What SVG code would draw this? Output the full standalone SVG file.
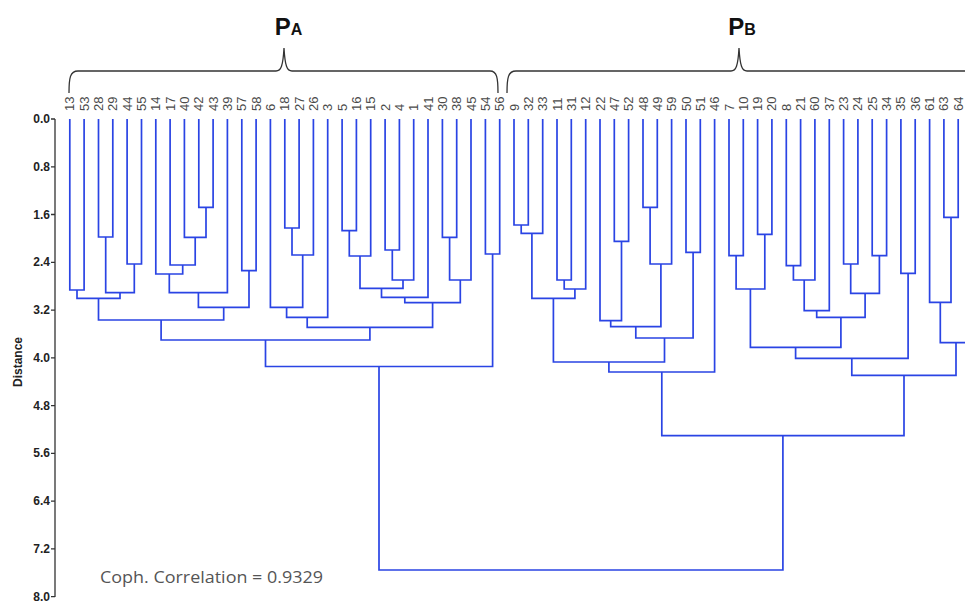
<svg xmlns="http://www.w3.org/2000/svg" width="965" height="602" viewBox="0 0 965 602">
<style>
.leaf{font-family:"Liberation Sans",Arial,sans-serif;font-size:13px;fill:#4a4a4a}
.ax{font-family:"Liberation Sans Narrow","Liberation Sans",Arial,sans-serif;font-size:12px;font-weight:bold;fill:#222;text-anchor:end}
.br{fill:none;stroke:#333;stroke-width:1.3}
.m{fill:none;stroke:#2a44e4;stroke-width:1.7}
.grp{font-family:"Liberation Sans",Arial,sans-serif;font-weight:bold;fill:#111;text-anchor:middle}
</style>
<rect width="965" height="602" fill="#fff"/>
<g id="group-PA">
<path class="br" d="M69 93 C69 78 70 71 78 71 H276 C281 71 283 66 284 48 C285 66 287 71 292 71 H490 C497 71 498 78 498 93"/>
<text class="grp" x="288.5" y="35"><tspan font-size="24">P</tspan><tspan font-size="16">A</tspan></text>
</g>
<g id="group-PB">
<path class="br" d="M507 93 C507 78 508 71 516 71 H731 C736 71 738 66 739 48 C740 66 742 71 747 71 H970"/>
<text class="grp" x="742" y="35"><tspan font-size="24">P</tspan><tspan font-size="16">B</tspan></text>
</g>
<g id="axis">
<path fill="none" stroke="#333" stroke-width="1.3" d="M55 119 V597 M51 119 H55 M51 166.8 H55 M51 214.5 H55 M51 262.3 H55 M51 310.1 H55 M51 357.9 H55 M51 405.6 H55 M51 453.4 H55 M51 501.2 H55 M51 548.9 H55 M51 596.7 H55"/>
<text class="ax" x="50" y="123">0.0</text>
<text class="ax" x="50" y="170.8">0.8</text>
<text class="ax" x="50" y="218.5">1.6</text>
<text class="ax" x="50" y="266.3">2.4</text>
<text class="ax" x="50" y="314.1">3.2</text>
<text class="ax" x="50" y="361.9">4.0</text>
<text class="ax" x="50" y="409.6">4.8</text>
<text class="ax" x="50" y="457.4">5.6</text>
<text class="ax" x="50" y="505.2">6.4</text>
<text class="ax" x="50" y="552.9">7.2</text>
<text class="ax" x="50" y="600.7">8.0</text>
<text class="ax" transform="translate(22,362) rotate(-90)" style="text-anchor:middle">Distance</text>
</g>
<g id="leaves">
<text class="leaf" transform="translate(74.3,111) rotate(-90)">13</text>
<text class="leaf" transform="translate(88.6,111) rotate(-90)">53</text>
<text class="leaf" transform="translate(103,111) rotate(-90)">28</text>
<text class="leaf" transform="translate(117.3,111) rotate(-90)">29</text>
<text class="leaf" transform="translate(131.6,111) rotate(-90)">44</text>
<text class="leaf" transform="translate(146,111) rotate(-90)">55</text>
<text class="leaf" transform="translate(160.3,111) rotate(-90)">14</text>
<text class="leaf" transform="translate(174.6,111) rotate(-90)">17</text>
<text class="leaf" transform="translate(188.9,111) rotate(-90)">40</text>
<text class="leaf" transform="translate(203.3,111) rotate(-90)">42</text>
<text class="leaf" transform="translate(217.6,111) rotate(-90)">43</text>
<text class="leaf" transform="translate(231.9,111) rotate(-90)">39</text>
<text class="leaf" transform="translate(246.3,111) rotate(-90)">57</text>
<text class="leaf" transform="translate(260.6,111) rotate(-90)">58</text>
<text class="leaf" transform="translate(274.9,111) rotate(-90)">6</text>
<text class="leaf" transform="translate(289.3,111) rotate(-90)">18</text>
<text class="leaf" transform="translate(303.6,111) rotate(-90)">27</text>
<text class="leaf" transform="translate(317.9,111) rotate(-90)">26</text>
<text class="leaf" transform="translate(332.2,111) rotate(-90)">3</text>
<text class="leaf" transform="translate(346.6,111) rotate(-90)">5</text>
<text class="leaf" transform="translate(360.9,111) rotate(-90)">16</text>
<text class="leaf" transform="translate(375.2,111) rotate(-90)">15</text>
<text class="leaf" transform="translate(389.6,111) rotate(-90)">2</text>
<text class="leaf" transform="translate(403.9,111) rotate(-90)">4</text>
<text class="leaf" transform="translate(418.2,111) rotate(-90)">1</text>
<text class="leaf" transform="translate(432.5,111) rotate(-90)">41</text>
<text class="leaf" transform="translate(446.9,111) rotate(-90)">30</text>
<text class="leaf" transform="translate(461.2,111) rotate(-90)">38</text>
<text class="leaf" transform="translate(475.5,111) rotate(-90)">45</text>
<text class="leaf" transform="translate(489.9,111) rotate(-90)">54</text>
<text class="leaf" transform="translate(504.2,111) rotate(-90)">56</text>
<text class="leaf" transform="translate(518.5,111) rotate(-90)">9</text>
<text class="leaf" transform="translate(532.8,111) rotate(-90)">32</text>
<text class="leaf" transform="translate(547.2,111) rotate(-90)">33</text>
<text class="leaf" transform="translate(561.5,111) rotate(-90)">11</text>
<text class="leaf" transform="translate(575.8,111) rotate(-90)">31</text>
<text class="leaf" transform="translate(590.2,111) rotate(-90)">12</text>
<text class="leaf" transform="translate(604.5,111) rotate(-90)">22</text>
<text class="leaf" transform="translate(618.8,111) rotate(-90)">47</text>
<text class="leaf" transform="translate(633.1,111) rotate(-90)">52</text>
<text class="leaf" transform="translate(647.5,111) rotate(-90)">48</text>
<text class="leaf" transform="translate(661.8,111) rotate(-90)">49</text>
<text class="leaf" transform="translate(676.1,111) rotate(-90)">59</text>
<text class="leaf" transform="translate(690.5,111) rotate(-90)">50</text>
<text class="leaf" transform="translate(704.8,111) rotate(-90)">51</text>
<text class="leaf" transform="translate(719.1,111) rotate(-90)">46</text>
<text class="leaf" transform="translate(733.5,111) rotate(-90)">7</text>
<text class="leaf" transform="translate(747.8,111) rotate(-90)">10</text>
<text class="leaf" transform="translate(762.1,111) rotate(-90)">19</text>
<text class="leaf" transform="translate(776.4,111) rotate(-90)">20</text>
<text class="leaf" transform="translate(790.8,111) rotate(-90)">8</text>
<text class="leaf" transform="translate(805.1,111) rotate(-90)">21</text>
<text class="leaf" transform="translate(819.4,111) rotate(-90)">60</text>
<text class="leaf" transform="translate(833.8,111) rotate(-90)">37</text>
<text class="leaf" transform="translate(848.1,111) rotate(-90)">23</text>
<text class="leaf" transform="translate(862.4,111) rotate(-90)">24</text>
<text class="leaf" transform="translate(876.7,111) rotate(-90)">25</text>
<text class="leaf" transform="translate(891.1,111) rotate(-90)">34</text>
<text class="leaf" transform="translate(905.4,111) rotate(-90)">35</text>
<text class="leaf" transform="translate(919.7,111) rotate(-90)">36</text>
<text class="leaf" transform="translate(934.1,111) rotate(-90)">61</text>
<text class="leaf" transform="translate(948.4,111) rotate(-90)">63</text>
<text class="leaf" transform="translate(962.7,111) rotate(-90)">64</text>
</g>
<g id="connectors">
<path class="m" d="M69.8 119 V290 H84.1 V119"/>
<path class="m" d="M98.5 119 V237 H112.8 V119"/>
<path class="m" d="M127.1 119 V264 H141.5 V119"/>
<path class="m" d="M105.7 237 V292.7 H134.3 V264"/>
<path class="m" d="M77 290 V298.3 H120 V292.7"/>
<path class="m" d="M198.8 119 V207.3 H213.1 V119"/>
<path class="m" d="M184.4 119 V237.3 H206 V207.3"/>
<path class="m" d="M170.1 119 V265 H195.2 V237.3"/>
<path class="m" d="M155.8 119 V274 H182.7 V265"/>
<path class="m" d="M169.3 274 V292.7 H227.4 V119"/>
<path class="m" d="M241.8 119 V270.7 H256.1 V119"/>
<path class="m" d="M198.4 292.7 V307.3 H249 V270.7"/>
<path class="m" d="M98.5 298.3 V320 H223.7 V307.3"/>
<path class="m" d="M284.8 119 V228 H299.1 V119"/>
<path class="m" d="M292 228 V255 H313.4 V119"/>
<path class="m" d="M270.4 119 V307.3 H302.7 V255"/>
<path class="m" d="M286.6 307.3 V317.3 H327.7 V119"/>
<path class="m" d="M342.1 119 V230.7 H356.4 V119"/>
<path class="m" d="M349.3 230.7 V256 H370.7 V119"/>
<path class="m" d="M385.1 119 V250 H399.4 V119"/>
<path class="m" d="M392.3 250 V280 H413.7 V119"/>
<path class="m" d="M360 256 V288.3 H403 V280"/>
<path class="m" d="M381.5 288.3 V297.3 H428 V119"/>
<path class="m" d="M442.4 119 V237.3 H456.7 V119"/>
<path class="m" d="M449.6 237.3 V280 H471 V119"/>
<path class="m" d="M404.8 297.3 V302.7 H460.3 V280"/>
<path class="m" d="M307.2 317.3 V327.3 H432.6 V302.7"/>
<path class="m" d="M161.1 320 V340 H369.9 V327.3"/>
<path class="m" d="M485.4 119 V254 H499.7 V119"/>
<path class="m" d="M265.5 340 V366.5 H492.6 V254"/>
<path class="m" d="M514 119 V225 H528.3 V119"/>
<path class="m" d="M521.2 225 V233.3 H542.7 V119"/>
<path class="m" d="M557 119 V280 H571.3 V119"/>
<path class="m" d="M564.2 280 V289 H585.7 V119"/>
<path class="m" d="M531.9 233.3 V298.3 H574.9 V289"/>
<path class="m" d="M614.3 119 V241.3 H628.6 V119"/>
<path class="m" d="M600 119 V320.7 H621.5 V241.3"/>
<path class="m" d="M643 119 V207.3 H657.3 V119"/>
<path class="m" d="M650.1 207.3 V264 H671.6 V119"/>
<path class="m" d="M610.7 320.7 V326.7 H660.9 V264"/>
<path class="m" d="M686 119 V252.3 H700.3 V119"/>
<path class="m" d="M635.8 326.7 V338 H693.1 V252.3"/>
<path class="m" d="M553.4 298.3 V362 H664.5 V338"/>
<path class="m" d="M608.9 362 V372 H714.6 V119"/>
<path class="m" d="M729 119 V255.7 H743.3 V119"/>
<path class="m" d="M757.6 119 V234.3 H771.9 V119"/>
<path class="m" d="M736.1 255.7 V289 H764.8 V234.3"/>
<path class="m" d="M786.3 119 V265.7 H800.6 V119"/>
<path class="m" d="M793.4 265.7 V280 H814.9 V119"/>
<path class="m" d="M804.2 280 V310.7 H829.3 V119"/>
<path class="m" d="M843.6 119 V264 H857.9 V119"/>
<path class="m" d="M872.2 119 V255.7 H886.6 V119"/>
<path class="m" d="M850.7 264 V293.3 H879.4 V255.7"/>
<path class="m" d="M816.7 310.7 V317.3 H865.1 V293.3"/>
<path class="m" d="M750.4 289 V347.3 H840.9 V317.3"/>
<path class="m" d="M900.9 119 V273.3 H915.2 V119"/>
<path class="m" d="M795.6 347.3 V358.3 H908.1 V273.3"/>
<path class="m" d="M943.9 119 V217.3 H958.2 V119"/>
<path class="m" d="M929.6 119 V302.3 H951 V217.3"/>
<path class="m" d="M940.3 302.3 V342.7 H968"/>
<path class="m" d="M956 342.7 V375.3 H851.8 V358.3"/>
<path class="m" d="M661.8 372 V435.7 H904 V375.3"/>
<path class="m" d="M379 366.5 V570 H782.9 V435.7"/>
</g>
<text x="100" y="583" font-family="'Open Sans','Noto Sans',sans-serif" font-size="15.5" fill="#555" textLength="223" lengthAdjust="spacingAndGlyphs">Coph. Correlation = 0.9329</text>
</svg>
